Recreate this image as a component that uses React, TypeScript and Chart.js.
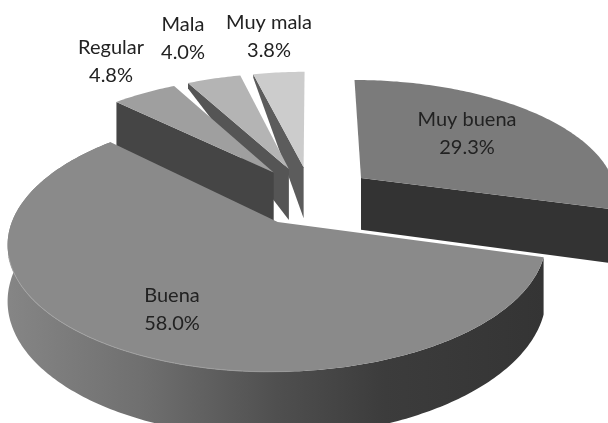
import React, { useEffect, useRef } from "react";
import { Chart, registerables } from "chart.js";

Chart.register(...registerables);

const categories = ["Muy buena", "Buena", "Regular", "Mala", "Muy mala"];
const shares = [29.3, 58.0, 4.8, 4.0, 3.8];

const topColors = ["#7b7b7b", "#8a8a8a", "#9f9f9f", "#b4b4b4", "#cccccc"];
const sideColors = ["#333333", "#3a3a3a", "#454545", "#555555", "#5c5c5c"];
const sideFaces = ["end", "rim", "start", "start", "start"];
const outerDepthScale = [1, 1, 1, 0.12, 0.08];
const drawOrder = [4, 3, 2, 0, 1];
const labelCentres = [
  [467, 120],
  [172, 296],
  [111, 48],
  [183, 25],
  [269, 23],
];

// pie camera: perspective view of a unit disc
const CAM = { cx: 311, cy: 195.5, rx: 257, ry: 118, g: 0.153, depth: 53, explode: 0.25 };

const project = (x: number, y: number) => {
  const w = 1 - CAM.g * y;
  return { x: CAM.cx + (CAM.rx * x) / w, y: CAM.cy + (CAM.ry * y) / w, d: CAM.depth / w };
};

const pie3d = {
  id: "pie3d",
  beforeDatasetDraw(chart: any, args: any) {
    const ctx = chart.ctx as CanvasRenderingContext2D;
    const arcs = args.meta.data;
    for (const i of drawOrder) {
      const { startAngle, endAngle } = arcs[i];
      const mid = (startAngle + endAngle) / 2;
      const ox = Math.cos(mid) * CAM.explode;
      const oy = Math.sin(mid) * CAM.explode;
      const apex = project(ox, oy);
      const steps = Math.max(2, Math.ceil((endAngle - startAngle) / 0.015));
      const rim: { x: number; y: number; d: number }[] = [];
      for (let s = 0; s <= steps; s++) {
        const a = startAngle + ((endAngle - startAngle) * s) / steps;
        rim.push(project(ox + Math.cos(a), oy + Math.sin(a)));
      }
      ctx.save();
      // side face
      const face = sideFaces[i];
      ctx.beginPath();
      if (face === "rim") {
        rim.forEach((p, k) => (k ? ctx.lineTo(p.x, p.y) : ctx.moveTo(p.x, p.y)));
        for (let k = rim.length - 1; k >= 0; k--) ctx.lineTo(rim[k].x, rim[k].y + rim[k].d);
        const g = ctx.createLinearGradient(10, 0, 545, 0);
        g.addColorStop(0, "#858585");
        g.addColorStop(0.25, "#6f6f6f");
        g.addColorStop(0.5, "#4f4f4f");
        g.addColorStop(0.7, "#3c3c3c");
        g.addColorStop(1, "#343434");
        ctx.fillStyle = g;
      } else {
        const p = face === "start" ? rim[0] : rim[rim.length - 1];
        ctx.moveTo(apex.x, apex.y);
        ctx.lineTo(p.x, p.y);
        ctx.lineTo(p.x, p.y + p.d * outerDepthScale[i]);
        ctx.lineTo(apex.x, apex.y + apex.d);
        ctx.fillStyle = sideColors[i];
      }
      ctx.closePath();
      ctx.fill();
      // top face
      ctx.beginPath();
      ctx.moveTo(apex.x, apex.y);
      rim.forEach((p) => ctx.lineTo(p.x, p.y));
      ctx.closePath();
      ctx.fillStyle = topColors[i];
      ctx.fill();
      if (face === "rim") {
        const g = ctx.createLinearGradient(10, 0, 300, 0);
        g.addColorStop(0, "#a4a4a4");
        g.addColorStop(0.8, "#9c9c9c");
        g.addColorStop(1, "rgba(138,138,138,0)");
        ctx.strokeStyle = g;
        ctx.lineWidth = 1;
        ctx.beginPath();
        const front = rim.filter((p) => p.y > 255);
        front.forEach((p, k) => (k ? ctx.lineTo(p.x, p.y) : ctx.moveTo(p.x, p.y)));
        ctx.stroke();
      }
      ctx.restore();
    }
    return false;
  },
  afterDatasetsDraw(chart: any) {
    const ctx = chart.ctx as CanvasRenderingContext2D;
    ctx.save();
    ctx.font = "20px Lato";
    ctx.fillStyle = "#222222";
    ctx.textAlign = "center";
    ctx.textBaseline = "middle";
    categories.forEach((name, i) => {
      const [x, y] = labelCentres[i];
      ctx.fillText(name, x, y);
      ctx.fillText(shares[i].toFixed(1) + "%", x, y + 28);
    });
    ctx.restore();
  },
};

export default function App() {
  const ref = useRef<HTMLCanvasElement>(null);
  useEffect(() => {
    document.body.style.margin = "0";
    document.body.style.background = "#ffffff";
    const chart = new Chart(ref.current!, {
      type: "pie",
      data: {
        labels: categories,
        datasets: [{ data: shares, backgroundColor: topColors, borderWidth: 0 }],
      },
      options: {
        animation: false,
        responsive: false,
        rotation: 0,
        plugins: { legend: { display: false }, tooltip: { enabled: false } },
      },
      plugins: [pie3d],
    } as any);
    return () => chart.destroy();
  }, []);
  return (
    <div style={{ width: 608, height: 423, overflow: "hidden" }}>
      <canvas ref={ref} width={608} height={423} style={{ display: "block" }} />
    </div>
  );
}
